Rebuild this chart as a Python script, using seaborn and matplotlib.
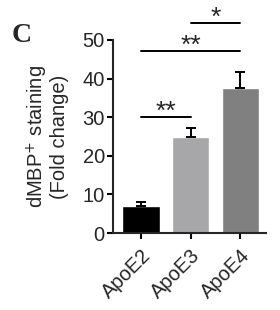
import matplotlib

matplotlib.use("Agg")
import matplotlib.pyplot as plt
import numpy as np
import pandas as pd
import seaborn as sns

GROUPS = ["ApoE2", "ApoE3", "ApoE4"]
MEANS = [7.0, 24.8, 37.5]
SEM = [1.0, 2.5, 4.3]
BAR_COLORS = ["#000000", "#a7a7aa", "#808080"]

# significance brackets: (left group, right group, height, label)
SIG_PAIRS = [(0, 1, 30.0, "**"), (0, 2, 47.2, "**"), (1, 2, 54.3, "*")]


def main() -> None:
    sns.set_theme(style="ticks")
    plt.rcParams["font.family"] = ["Liberation Sans", "DejaVu Sans"]

    df = pd.DataFrame({"group": GROUPS, "value": MEANS})

    fig = plt.figure(figsize=(2.8, 3.1), dpi=100)
    ax = fig.add_axes([0.404, 0.248, 0.546, 0.623])

    sns.barplot(
        data=df,
        x="group",
        y="value",
        hue="group",
        palette=dict(zip(GROUPS, BAR_COLORS)),
        width=0.75,
        legend=False,
        ax=ax,
    )
    x = np.arange(len(GROUPS))
    ax.errorbar(
        x,
        MEANS,
        yerr=[np.zeros(len(SEM)), SEM],
        fmt="none",
        ecolor="black",
        elinewidth=1.4,
        capsize=3.5,
        capthick=1.4,
    )

    ax.set_ylim(0, 50)
    ax.set_xlim(-0.56, 2.52)
    ax.set_yticks([0, 10, 20, 30, 40, 50])
    ax.tick_params(axis="both", labelsize=14.5, width=1.5, length=4, color="black", pad=2)
    ax.tick_params(axis="x", pad=5)
    ax.set_xticks(x)
    ax.set_xticklabels(GROUPS, rotation=45, ha="right", rotation_mode="anchor")
    ax.set_xlabel("")
    ax.set_ylabel("dMBP$^{+}$ staining\n(Fold change)", fontsize=14.5, linespacing=1.0, labelpad=10)
    for side in ["left", "bottom"]:
        ax.spines[side].set_linewidth(1.5)
    sns.despine(ax=ax)

    for left, right, height, label in SIG_PAIRS:
        ax.plot([left, right], [height, height], color="black", lw=1.4, clip_on=False)
        ax.text((left + right) / 2, height - 1.8, label, ha="center", va="bottom",
                fontsize=19, clip_on=False)

    fig.text(0.04, 0.865, "C", fontsize=20, fontweight="bold", family="Liberation Serif")

    fig.savefig("out.png", dpi=100)
    plt.close(fig)


if __name__ == "__main__":
    main()
